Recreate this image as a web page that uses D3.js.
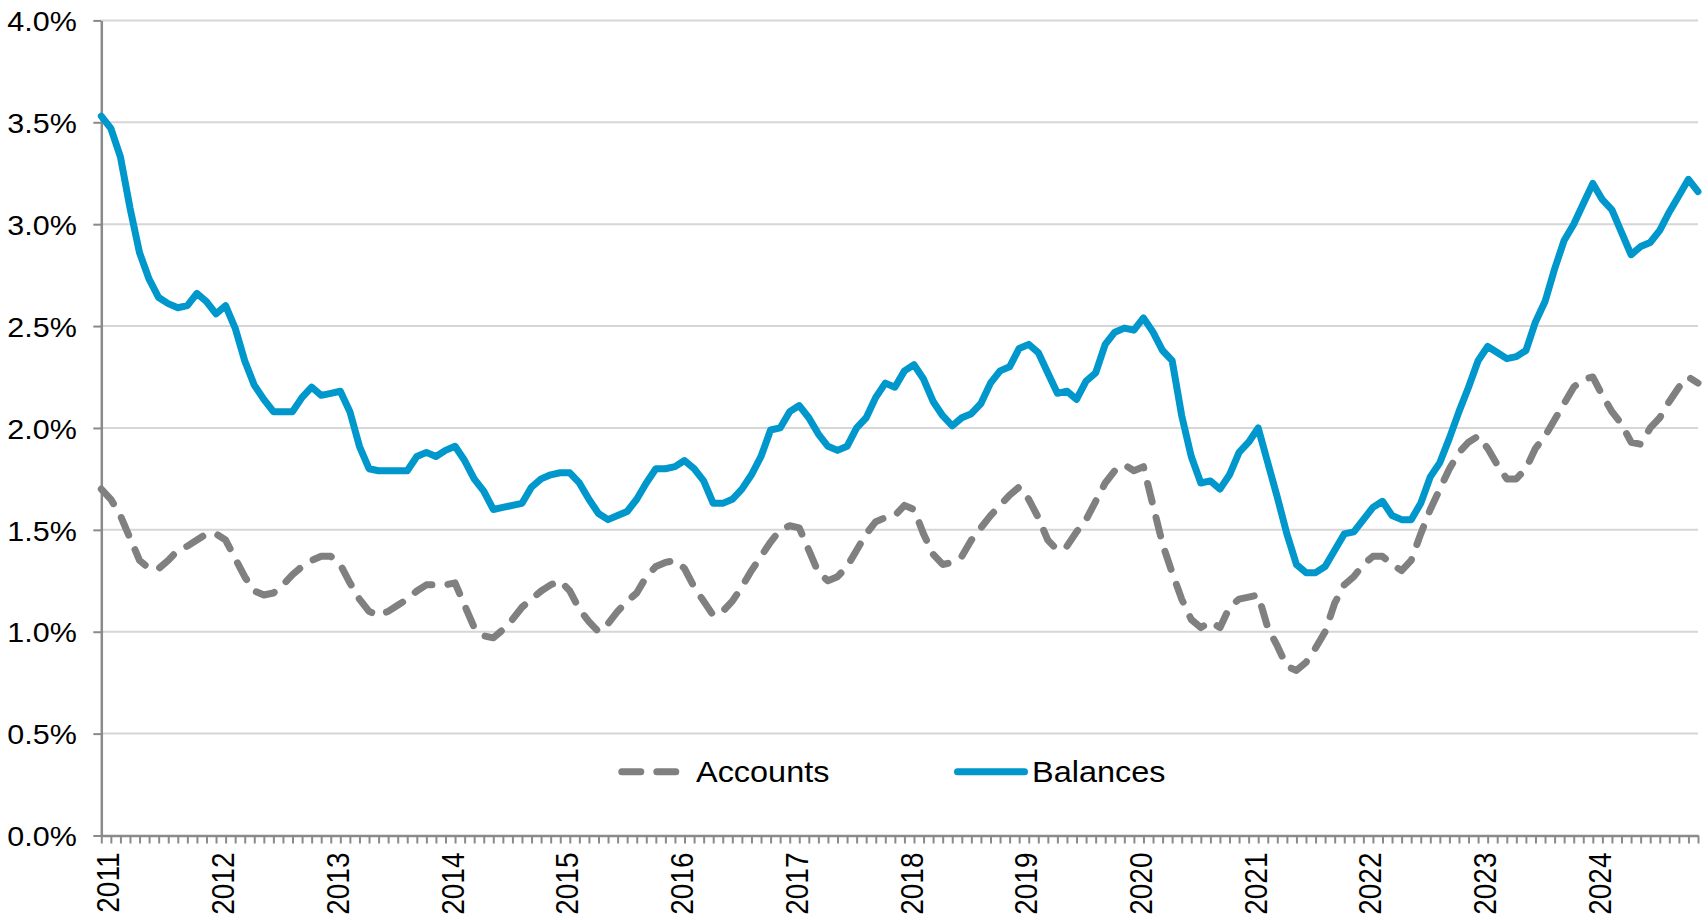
<!DOCTYPE html>
<html>
<head>
<meta charset="utf-8">
<script src="https://cdn.jsdelivr.net/npm/d3@7"></script>
<style>
  html, body { margin: 0; padding: 0; background: #ffffff; }
  svg { display: block; }
  text { font-family: "Liberation Sans", Arial, sans-serif; fill: #000; }
</style>
</head>
<body>
<svg id="chart" width="1708" height="920"></svg>
<script>
// Monthly series, January 2011 through December 2024 (percent)
const accounts = [
  1.70, 1.65, 1.57, 1.46, 1.35, 1.31, 1.31, 1.35, 1.40, 1.42, 1.45, 1.48,
  1.48, 1.45, 1.36, 1.27, 1.20, 1.18, 1.19, 1.23, 1.28, 1.32, 1.35, 1.37,
  1.37, 1.33, 1.24, 1.16, 1.10, 1.08, 1.10, 1.13, 1.16, 1.20, 1.23, 1.23,
  1.23, 1.24, 1.13, 1.02, 0.98, 0.97, 1.01, 1.06, 1.12, 1.16, 1.20, 1.23,
  1.25, 1.20, 1.11, 1.05, 1.00, 1.04, 1.10, 1.15, 1.19, 1.27, 1.32, 1.34,
  1.35, 1.31, 1.22, 1.15, 1.08, 1.10, 1.15, 1.22, 1.30, 1.37, 1.44, 1.50,
  1.52, 1.51, 1.40, 1.29, 1.25, 1.27, 1.32, 1.40, 1.48, 1.54, 1.56, 1.57,
  1.62, 1.60, 1.48, 1.38, 1.33, 1.34, 1.37, 1.45, 1.51, 1.57, 1.62, 1.67,
  1.71, 1.65, 1.56, 1.45, 1.40, 1.42, 1.49, 1.55, 1.64, 1.73, 1.79, 1.82,
  1.79, 1.81, 1.62, 1.43, 1.29, 1.16, 1.06, 1.02, 1.05, 1.02, 1.12, 1.16,
  1.17, 1.18, 1.02, 0.93, 0.83, 0.81, 0.85, 0.92, 1.00, 1.14, 1.23, 1.27,
  1.33, 1.37, 1.37, 1.33, 1.30, 1.35, 1.48, 1.60, 1.70, 1.80, 1.88, 1.93,
  1.96, 1.90, 1.82, 1.75, 1.75, 1.80, 1.90, 1.96, 2.04, 2.12, 2.20, 2.24,
  2.25, 2.16, 2.08, 2.02, 1.93, 1.92, 2.00, 2.05, 2.13, 2.20, 2.25, 2.22
];

const balances = [
  3.53, 3.47, 3.33, 3.08, 2.86, 2.73, 2.64, 2.61, 2.59, 2.60, 2.66, 2.62,
  2.56, 2.60, 2.49, 2.33, 2.21, 2.14, 2.08, 2.08, 2.08, 2.15, 2.20, 2.16,
  2.17, 2.18, 2.08, 1.91, 1.80, 1.79, 1.79, 1.79, 1.79, 1.86, 1.88, 1.86,
  1.89, 1.91, 1.84, 1.75, 1.69, 1.60, 1.61, 1.62, 1.63, 1.71, 1.75, 1.77,
  1.78, 1.78, 1.73, 1.65, 1.58, 1.55, 1.57, 1.59, 1.65, 1.73, 1.80, 1.80,
  1.81, 1.84, 1.80, 1.74, 1.63, 1.63, 1.65, 1.70, 1.77, 1.86, 1.99, 2.00,
  2.08, 2.11, 2.05, 1.97, 1.91, 1.89, 1.91, 2.00, 2.05, 2.15, 2.22, 2.20,
  2.28, 2.31, 2.24, 2.13, 2.06, 2.01, 2.05, 2.07, 2.12, 2.22, 2.28, 2.30,
  2.39, 2.41, 2.37, 2.27, 2.17, 2.18, 2.14, 2.23, 2.27, 2.41, 2.47, 2.49,
  2.48, 2.54, 2.47, 2.38, 2.33, 2.06, 1.86, 1.73, 1.74, 1.70, 1.77, 1.88,
  1.93, 2.00, 1.83, 1.66, 1.48, 1.33, 1.29, 1.29, 1.32, 1.40, 1.48, 1.49,
  1.55, 1.61, 1.64, 1.57, 1.55, 1.55, 1.63, 1.76, 1.83, 1.95, 2.08, 2.20,
  2.33, 2.40, 2.37, 2.34, 2.35, 2.38, 2.52, 2.62, 2.78, 2.92, 3.00, 3.10,
  3.20, 3.12, 3.07, 2.96, 2.85, 2.89, 2.91, 2.97, 3.06, 3.14, 3.22, 3.16
];

const yTicks = [0, 0.5, 1.0, 1.5, 2.0, 2.5, 3.0, 3.5, 4.0];
const seriesNames = ["Accounts", "Balances"];

// Month categories for the x axis
const months = d3.timeMonth.range(new Date(2011, 0, 1), new Date(2025, 0, 1));
const monthKeys = months.map(d3.timeFormat("%Y-%m"));

const svg = d3.select("#chart");

const plot = { left: 101.3, right: 1698, top: 20.4, bottom: 835.5 };

const x = d3.scalePoint().domain(monthKeys).range([plot.left, plot.right]);
const y = d3.scaleLinear().domain([0, 4]).range([plot.bottom, plot.top]);

const axisColor = "#8a8a8a";
const gridColor = "#d6d6d6";
const blue = "#0097CC";
const grey = "#808080";
const lineWidth = 7;
const dashPattern = "19,16";
const fontStack = "'Liberation Sans', Arial, sans-serif";
const textStretch = 1.1; // type is set slightly wide

// Horizontal gridlines
svg.append("g")
  .selectAll("line")
  .data(yTicks.filter(d => d > 0))
  .join("line")
  .attr("x1", plot.left)
  .attr("x2", plot.right)
  .attr("y1", d => y(d))
  .attr("y2", d => y(d))
  .attr("stroke", gridColor)
  .attr("stroke-width", 2);

// Y axis
const yAxis = svg.append("g")
  .attr("transform", `translate(${plot.left},0)`)
  .call(d3.axisLeft(y)
    .tickValues(yTicks)
    .tickFormat(d => d.toFixed(1) + "%")
    .tickSize(8)
    .tickSizeOuter(0));
yAxis.select(".domain").attr("stroke", axisColor).attr("stroke-width", 2.5);
yAxis.selectAll(".tick line").attr("stroke", axisColor).attr("stroke-width", 2);
yAxis.selectAll(".tick text")
  .attr("font-size", 28.5)
  .attr("x", -24.5 / 1.07)
  .attr("dy", "0.36em")
  .attr("transform", "scale(1.07,1)")
  .style("font-family", fontStack)
  .attr("fill", "#000");

// X axis: a tick for each month, year labels at January
const xAxis = svg.append("g")
  .attr("transform", `translate(0,${plot.bottom})`)
  .call(d3.axisBottom(x)
    .tickValues(monthKeys)
    .tickFormat(k => k.endsWith("-01") ? k.slice(0, 4) : "")
    .tickSize(8)
    .tickSizeOuter(0));
xAxis.select(".domain").attr("stroke", axisColor).attr("stroke-width", 2.5);
xAxis.selectAll(".tick line").attr("stroke", axisColor).attr("stroke-width", 2);
xAxis.selectAll(".tick text")
  .attr("font-size", 28)
  .style("font-family", fontStack)
  .attr("fill", "#000")
  .attr("text-anchor", "end")
  .attr("transform", "scale(1.12,1) rotate(-90)")
  .attr("x", -17)
  .attr("y", 0)
  .attr("dy", "0.56em");

// Lines
const line = d3.line()
  .x((d, i) => x(monthKeys[i]))
  .y(d => y(d))
  .curve(d3.curveLinear);

svg.append("path")
  .datum(accounts)
  .attr("d", line)
  .attr("fill", "none")
  .attr("stroke", grey)
  .attr("stroke-width", lineWidth)
  .attr("stroke-linecap", "round")
  .attr("stroke-linejoin", "round")
  .attr("stroke-dasharray", dashPattern);

svg.append("path")
  .datum(balances)
  .attr("d", line)
  .attr("fill", "none")
  .attr("stroke", blue)
  .attr("stroke-width", lineWidth)
  .attr("stroke-linecap", "round")
  .attr("stroke-linejoin", "round");

// Legend
const legendY = 771.7;
const legend = svg.append("g");
const legendItems = [
  { name: seriesNames[0], x1: 621.8, x2: 676.5, color: grey, dash: dashPattern, tx: 696 },
  { name: seriesNames[1], x1: 957.5, x2: 1024.5, color: blue, dash: null, tx: 1032 }
];
legendItems.forEach(it => {
  legend.append("line")
    .attr("x1", it.x1).attr("x2", it.x2)
    .attr("y1", legendY).attr("y2", legendY)
    .attr("stroke", it.color)
    .attr("stroke-width", lineWidth)
    .attr("stroke-linecap", "round")
    .attr("stroke-dasharray", it.dash);
  legend.append("text")
    .attr("transform", `translate(${it.tx},${legendY + 10.3}) scale(${textStretch},1)`)
    .attr("font-size", 29.5)
    .text(it.name);
});
</script>
</body>
</html>
